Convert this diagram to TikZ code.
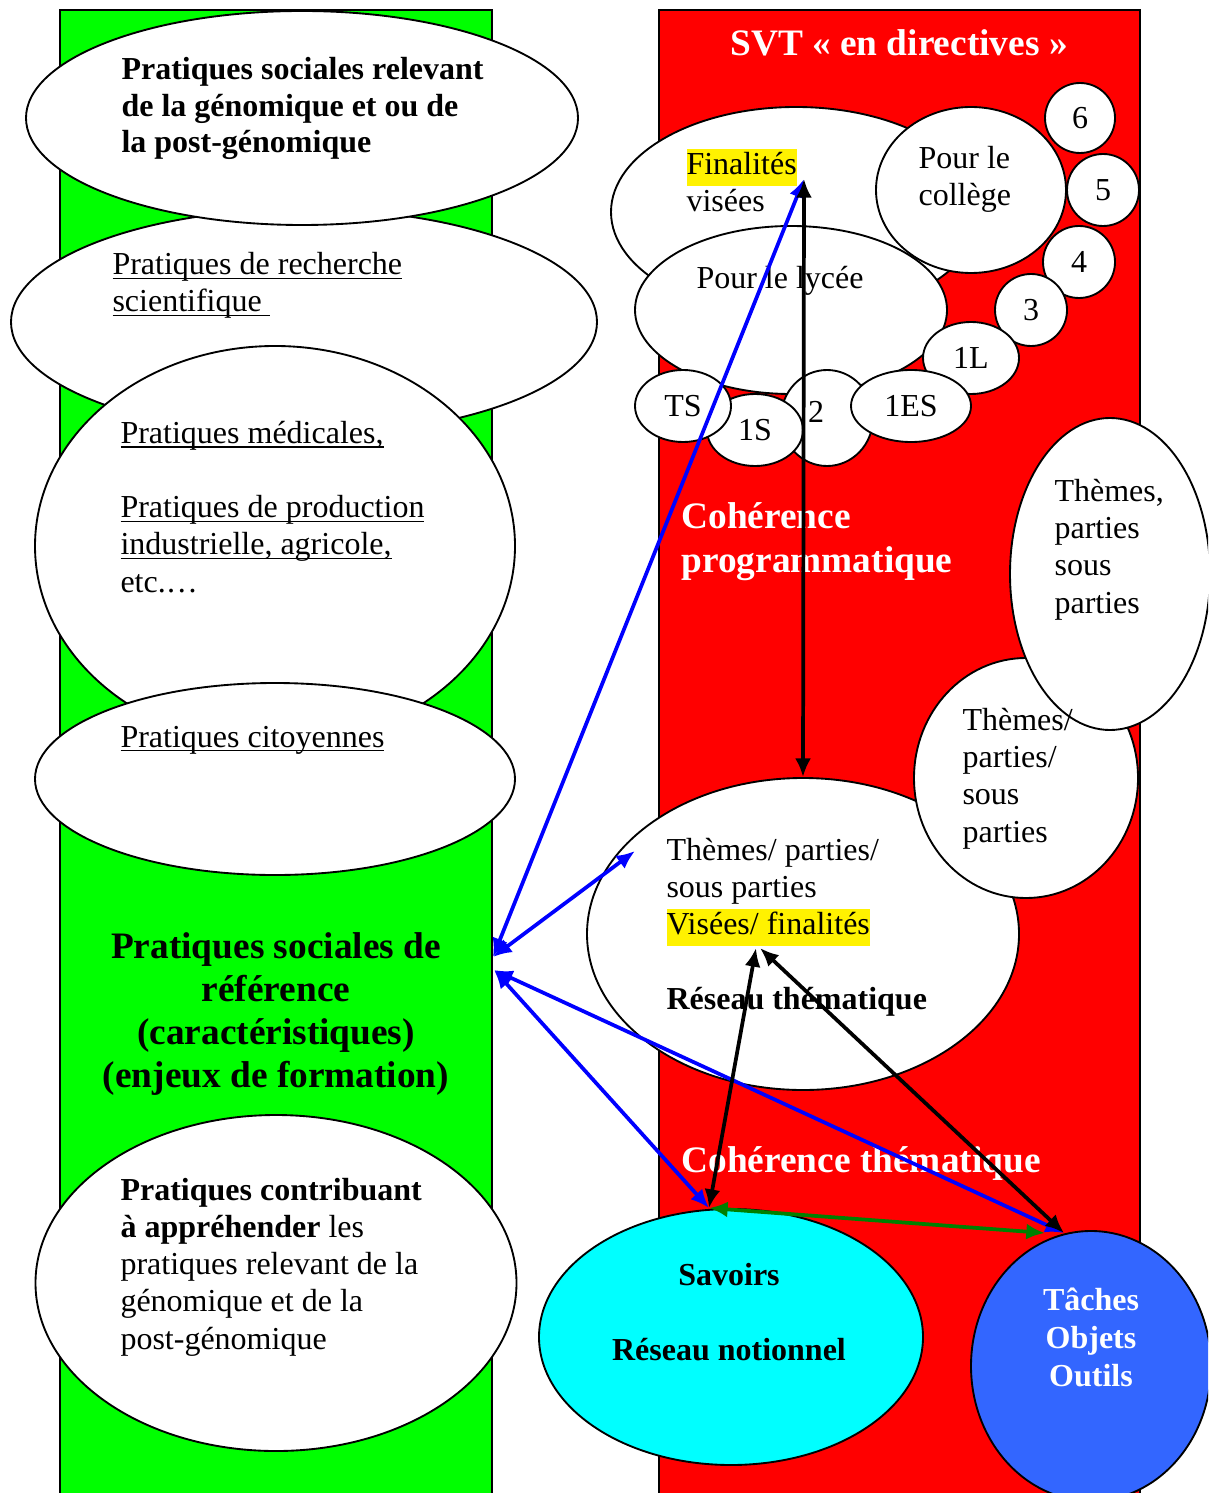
\documentclass[tikz,border=0pt]{standalone}
\usepackage{fontspec}
\setmainfont{Liberation Serif}
\usepackage{tikz}
\usetikzlibrary{arrows.meta}
\usetikzlibrary{shapes.geometric}

\definecolor{vertvif}{RGB}{0,255,0}
\definecolor{rougevif}{RGB}{255,0,0}
\definecolor{turquoise}{RGB}{0,255,255}
\definecolor{bleuclair}{RGB}{51,102,255}
\definecolor{vertfonce}{RGB}{0,128,0}

\newlength{\largeur}
\newcommand{\souligne}[1]{\settowidth{\largeur}{#1}\rlap{\rule[-1.6pt]{\largeur}{0.6pt}}#1}
\newcommand{\surligne}[1]{{\setlength{\fboxsep}{0pt}\colorbox{yellow}{\strut #1}}}

\begin{document}
\begin{tikzpicture}[x=0.375pt,y=-0.375pt,>={Latex[length=7pt,width=6pt]}]
	\tikzset{taille/.style 2 args={minimum width=#1*0.375pt,minimum height=#2*0.375pt}}
	\tikzstyle{bulle}=[ellipse,draw,fill=white,line width=0.7pt,inner sep=0pt,font=\fontsize{12}{13.9}\selectfont]
	\tikzstyle{texte}=[inner sep=0pt,align=left,anchor=base west,font=\fontsize{12}{13.9}\selectfont]
	\tikzstyle{titre}=[inner sep=0pt,font=\fontsize{14}{16.5}\selectfont\bfseries]
	\tikzstyle{fleche}=[line width=1.4pt,<->]
	\clip (0,0) rectangle (1208,1493);
	% les deux colonnes
	\draw[fill=vertvif,line width=0.6pt] (60,10) rectangle (492,1510);
	\draw[fill=rougevif,line width=0.6pt] (659,10) rectangle (1140,1510);
	% pratiques sociales (base = derniere ligne)
	\node[bulle,taille={586}{226}] (B) at (304,322) {};
	\node[bulle,taille={552}{214}] (A) at (302,118) {};
	\node[bulle,taille={480}{400}] (C) at (275,546) {};
	\node[bulle,taille={480}{192}] (D) at (275,779) {};
	\node[bulle,taille={481}{336}] (E) at (276,1283) {};
	\node[texte,font=\fontsize{12}{13.7}\selectfont\bfseries] (tA) at (121,153) {Pratiques sociales relevant\\de la génomique et ou de\\la post-génomique};
	\node[texte] (tB) at (112,312) {\souligne{Pratiques de recherche}\\\souligne{scientifique\ }};
	\node[texte] (tC) at (120,592) {\souligne{Pratiques médicales,}\\[13.9pt]\souligne{Pratiques de production}\\\souligne{industrielle, agricole,}\\etc.…};
	\node[texte] (tD) at (120,747) {\souligne{Pratiques citoyennes}};
	\node[texte] (tE) at (120,1349) {\textbf{Pratiques contribuant}\\\textbf{à appréhender} les\\pratiques relevant de la\\génomique et de la\\post-génomique};
	\node[titre,align=center,anchor=base,font=\fontsize{14}{16.1}\selectfont\bfseries] (ref) at (276,1087) {Pratiques sociales de\\référence\\(caractéristiques)\\(enjeux de formation)};
	% SVT
	\node[titre,white,anchor=base] (svt) at (899,56) {SVT~«~en directives~»};
	\node[bulle,taille={370}{210}] (F) at (796,212) {};
	\node[bulle,taille={190}{166}] (col) at (971,190) {};
	\node[bulle,taille={312}{168}] (lyc) at (791,310) {};
	\node[bulle,taille={70}{70}] (n6) at (1080,118) {6};
	\node[bulle,taille={72}{72}] (n5) at (1103,190) {5};
	\node[bulle,taille={72}{72}] (n4) at (1079,262) {4};
	\node[bulle,taille={72}{72}] (n3) at (1031,310) {3};
	\node[bulle,taille={96}{72}] (n1L) at (971,358) {1L};
	\node[bulle,taille={92}{96}] (n2) at (827,418) {};
	\node[bulle,taille={120}{72}] (n1ES) at (911,406) {1ES};
	\node[bulle,taille={96}{72}] (n1S) at (755,430) {1S};
	\node[bulle,taille={96}{72}] (nTS) at (683,406) {TS};
	\node[texte,anchor=base] (t2) at (816,422) {2};
	\node[texte] (tF) at (686,212) {\surligne{Finalités}\\visées};
	\node[texte] (tcol) at (918,206) {Pour le\\collège};
	\node[texte] (tlyc) at (696,289) {Pour le lycée};
	\node[titre,white,align=left,anchor=base west] (prog) at (681,572) {Cohérence\\programmatique};
	% reseau thematique
	\node[bulle,taille={432}{312}] (RT) at (803,934) {};
	\node[bulle,taille={224}{240}] (T2) at (1026,778) {};
	\node[bulle,taille={200}{312}] (T1) at (1110,574) {};
	\node[texte] (tT1) at (1054,613) {Thèmes,\\parties\\sous\\parties};
	\node[texte] (tT2) at (962,842) {Thèmes/\\parties/\\sous\\parties};
	\node[texte] (tRT) at (666,1009) {Thèmes/ parties/\\sous parties\\\surligne{Visées/ finalités}\\[13.9pt]\textbf{Réseau thématique}};
	\node[titre,white,anchor=base west] (them) at (681,1172) {Cohérence thématique};
	% savoirs et taches
	\node[bulle,fill=turquoise,taille={384}{256}] (S) at (731,1337) {};
	\node[bulle,fill=bleuclair,taille={240}{270}] (Tq) at (1091,1366) {};
	\node[texte,align=center,anchor=base,font=\fontsize{12}{13.9}\selectfont\bfseries] (tS) at (729,1360) {Savoirs\\[13.9pt]Réseau notionnel};
	\node[texte,white,align=center,anchor=base,font=\fontsize{12}{14.25}\selectfont\bfseries] (tTq) at (1091,1386) {Tâches\\Objets\\Outils};
	% fleches
	\coordinate (fin) at (804,179);
	\coordinate (ref1) at (493,957);
	\coordinate (ref2) at (494,970);
	\coordinate (rt) at (635,851);
	\coordinate (vis1) at (756,948);
	\coordinate (vis2) at (760,948);
	\coordinate (sav) at (709,1208);
	\coordinate (tac) at (1064,1233);
	\coordinate (tac2) at (1045,1233);
	\draw[fleche,blue] (ref1) -- (fin);
	\draw[fleche,blue] (ref1) -- (rt);
	\draw[fleche,blue] (ref2) -- (sav);
	\draw[fleche,blue] (ref2) -- (tac);
	\draw[fleche] (fin) -- (RT.north);
	\draw[fleche] (vis1) -- (sav);
	\draw[fleche] (vis2) -- (tac);
	\draw[fleche,vertfonce] (sav) -- (tac2);
\end{tikzpicture}
\end{document}
